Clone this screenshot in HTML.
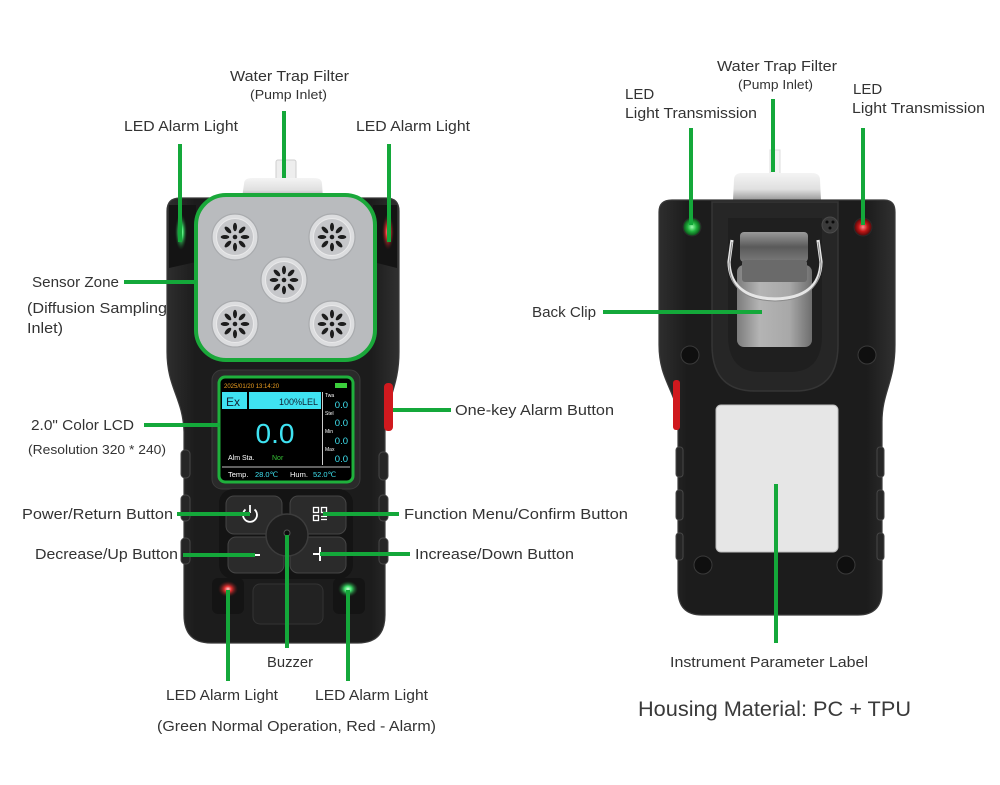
<!DOCTYPE html>
<html><head><meta charset="utf-8"><style>
html,body{margin:0;padding:0;background:#fff;}
svg{display:block;}
text{font-family:"Liberation Sans",sans-serif;fill:#333;}
</style></head><body>
<svg width="1000" height="785" viewBox="0 0 1000 785" xmlns="http://www.w3.org/2000/svg">
<defs>
<linearGradient id="body" x1="0" x2="1" y1="0" y2="0">
<stop offset="0" stop-color="#2e2e2e"/><stop offset="0.12" stop-color="#1c1c1c"/><stop offset="0.88" stop-color="#1c1c1c"/><stop offset="1" stop-color="#303030"/>
</linearGradient>
<linearGradient id="cap" x1="0" x2="0" y1="0" y2="1">
<stop offset="0" stop-color="#f4f4f4"/><stop offset="0.6" stop-color="#e0e0e0"/><stop offset="1" stop-color="#9a9a9a"/>
</linearGradient>
<linearGradient id="plate" x1="0" x2="1" y1="0" y2="0">
<stop offset="0" stop-color="#7c7c7c"/><stop offset="0.3" stop-color="#b4b4b4"/><stop offset="0.7" stop-color="#a8a8a8"/><stop offset="1" stop-color="#6e6e6e"/>
</linearGradient>
<linearGradient id="hinge" x1="0" x2="0" y1="0" y2="1">
<stop offset="0" stop-color="#9a9a9a"/><stop offset="0.5" stop-color="#5a5a5a"/><stop offset="1" stop-color="#7a7a7a"/>
</linearGradient>
<radialGradient id="gled"><stop offset="0" stop-color="#d8ffe0"/><stop offset="0.35" stop-color="#3de06a"/><stop offset="1" stop-color="#1a5a2a" stop-opacity="0"/></radialGradient>
<radialGradient id="rled"><stop offset="0" stop-color="#ffd0d0"/><stop offset="0.35" stop-color="#e53030"/><stop offset="1" stop-color="#5a1a1a" stop-opacity="0"/></radialGradient>
<radialGradient id="gdot"><stop offset="0" stop-color="#9dffb0"/><stop offset="0.5" stop-color="#1fb33c"/><stop offset="1" stop-color="#0c4a18"/></radialGradient>
<radialGradient id="rdot"><stop offset="0" stop-color="#ff8a8a"/><stop offset="0.5" stop-color="#c41616"/><stop offset="1" stop-color="#4a0a0a"/></radialGradient>
<g id="sensor">
<circle r="23" fill="#dcdddf" stroke="#a9abae" stroke-width="1.2"/>
<circle r="18.5" fill="#c6c7ca" stroke="#e9e9ea" stroke-width="1"/>
<g fill="#1d1d1d">
<ellipse cx="0" cy="-10" rx="2" ry="4.3"/>
<ellipse cx="0" cy="-10" rx="2" ry="4.3" transform="rotate(45)"/>
<ellipse cx="0" cy="-10" rx="2" ry="4.3" transform="rotate(90)"/>
<ellipse cx="0" cy="-10" rx="2" ry="4.3" transform="rotate(135)"/>
<ellipse cx="0" cy="-10" rx="2" ry="4.3" transform="rotate(180)"/>
<ellipse cx="0" cy="-10" rx="2" ry="4.3" transform="rotate(225)"/>
<ellipse cx="0" cy="-10" rx="2" ry="4.3" transform="rotate(270)"/>
<ellipse cx="0" cy="-10" rx="2" ry="4.3" transform="rotate(315)"/>
<circle r="2.3"/>
</g>
</g>
</defs>

<!-- ================= FRONT DEVICE ================= -->
<!-- water trap -->
<rect x="276" y="160" width="20" height="24" rx="2" fill="#eeeeee" stroke="#cfcfcf"/>
<path d="M244 184 Q244 178 252 178 L314 178 Q322 178 322 184 L323 198 L242 198 Z" fill="url(#cap)"/>
<!-- body -->
<path d="M180 198 L386 198 Q399 198 399 211 L399 352 C399 388 386 398 385 432 L385 615 Q385 643 358 643 L211 643 Q184 643 184 615 L184 432 C183 398 167 388 167 352 L167 211 Q167 198 180 198 Z" fill="url(#body)" stroke="#3a3a3a" stroke-width="1.2"/>
<!-- top corner LED housings -->
<path d="M169 205 L196 205 L196 262 L169 268 Z" fill="#141414"/>
<path d="M397 205 L373 205 L373 262 L397 268 Z" fill="#141414"/>
<ellipse cx="181" cy="232" rx="6" ry="18" fill="url(#gled)"/>
<ellipse cx="388" cy="232" rx="6" ry="18" fill="url(#rled)"/>
<!-- sensor panel -->
<rect x="196" y="195" width="179" height="165" rx="30" fill="#b9bbbe" stroke="#1aa83a" stroke-width="4"/>
<use href="#sensor" x="235" y="237"/>
<use href="#sensor" x="332" y="237"/>
<use href="#sensor" x="284" y="280"/>
<use href="#sensor" x="235" y="324"/>
<use href="#sensor" x="332" y="324"/>
<!-- side buttons -->
<rect x="384" y="383" width="9" height="48" rx="4" fill="#d0191e"/>
<rect x="181" y="450" width="9" height="28" rx="4" fill="#262626" stroke="#474747"/>
<rect x="181" y="495" width="9" height="26" rx="4" fill="#262626" stroke="#474747"/>
<rect x="181" y="538" width="9" height="26" rx="4" fill="#262626" stroke="#474747"/>
<rect x="379" y="452" width="9" height="28" rx="4" fill="#262626" stroke="#474747"/>
<rect x="379" y="495" width="9" height="26" rx="4" fill="#262626" stroke="#474747"/>
<rect x="379" y="538" width="9" height="26" rx="4" fill="#262626" stroke="#474747"/>
<!-- LCD bezel -->
<rect x="212" y="370" width="148" height="119" rx="10" fill="#2a2a2a" stroke="#3a3a3a"/>
<rect x="219" y="377" width="134" height="105" rx="6" fill="#000" stroke="#1fb03c" stroke-width="3"/>
<text x="224" y="388" style="font-size:6px;fill:#f0a020">2025/01/20 13:14:20</text>
<rect x="335" y="383" width="12" height="5" fill="#3ccf3c"/>
<rect x="222" y="392" width="25" height="17" fill="#3fe3f2"/>
<rect x="249" y="392" width="72" height="17" fill="#3fe3f2"/>
<text x="226" y="406" style="font-size:12px;fill:#123">Ex</text>
<text x="318" y="405" text-anchor="end" style="font-size:9px;fill:#123">100%LEL</text>
<line x1="322.5" y1="392" x2="322.5" y2="465" stroke="#fff" stroke-width="0.8"/>
<g style="font-size:5px;fill:#fff">
<text x="325" y="397" style="fill:#fff">Twa</text>
<text x="325" y="415" style="fill:#fff">Stel</text>
<text x="325" y="433" style="fill:#fff">Min</text>
<text x="325" y="451" style="fill:#fff">Max</text>
</g>
<g style="font-size:9.5px">
<text x="348" y="408" text-anchor="end" style="fill:#3fe3f2">0.0</text>
<text x="348" y="426" text-anchor="end" style="fill:#3fe3f2">0.0</text>
<text x="348" y="444" text-anchor="end" style="fill:#3fe3f2">0.0</text>
<text x="348" y="462" text-anchor="end" style="fill:#3fe3f2">0.0</text>
</g>
<text x="275" y="443" text-anchor="middle" style="font-size:28px;fill:#3fe3f2">0.0</text>
<text x="228" y="460" style="font-size:7px;fill:#fff">Alm Sta.</text>
<text x="272" y="460" style="font-size:7px;fill:#35c035">Nor</text>
<line x1="222" y1="467" x2="350" y2="467" stroke="#fff" stroke-width="0.8"/>
<text x="228" y="477" style="font-size:7.5px;fill:#fff">Temp.</text>
<text x="255" y="477" style="font-size:7.5px;fill:#3fe3f2">28.0℃</text>
<text x="290" y="477" style="font-size:7.5px;fill:#fff">Hum.</text>
<text x="313" y="477" style="font-size:7.5px;fill:#3fe3f2">52.0℃</text>
<!-- buttons -->
<rect x="219" y="489" width="134" height="90" rx="14" fill="#141414"/>
<rect x="226" y="496" width="56" height="38" rx="8" fill="#2b2b2b" stroke="#454545"/>
<rect x="290" y="496" width="56" height="38" rx="8" fill="#2b2b2b" stroke="#454545"/>
<rect x="228" y="537" width="56" height="36" rx="8" fill="#2b2b2b" stroke="#454545"/>
<rect x="290" y="537" width="56" height="36" rx="8" fill="#2b2b2b" stroke="#454545"/>
<circle cx="287" cy="535" r="21" fill="#1e1e1e" stroke="#3c3c3c" stroke-width="1.5"/>
<circle cx="287" cy="533" r="3" fill="#0c0c0c" stroke="#555"/>
<path d="M245.5 509.5 A7 7 0 1 0 254.5 509.5" fill="none" stroke="#fff" stroke-width="1.8"/>
<line x1="250" y1="505" x2="250" y2="513" stroke="#fff" stroke-width="1.8"/>
<g fill="none" stroke="#fff" stroke-width="1.3">
<rect x="313.5" y="507.5" width="5" height="5"/><rect x="321.5" y="507.5" width="5" height="5"/><rect x="313.5" y="515.5" width="5" height="5"/>
<line x1="321" y1="516.5" x2="327" y2="516.5"/><line x1="321" y1="519.5" x2="327" y2="519.5"/>
</g>
<line x1="248" y1="555" x2="260" y2="555" stroke="#fff" stroke-width="2"/>
<line x1="313" y1="554" x2="327" y2="554" stroke="#fff" stroke-width="2"/>
<line x1="320" y1="547" x2="320" y2="561" stroke="#fff" stroke-width="2"/>
<!-- bottom section -->
<rect x="212" y="578" width="32" height="36" rx="6" fill="#141414"/>
<rect x="333" y="578" width="32" height="36" rx="6" fill="#141414"/>
<rect x="253" y="584" width="70" height="40" rx="7" fill="#222" stroke="#333"/>
<ellipse cx="228" cy="589" rx="10" ry="8" fill="url(#rled)"/>
<ellipse cx="348" cy="589" rx="10" ry="8" fill="url(#gled)"/>

<!-- ================= BACK DEVICE ================= -->
<rect x="770" y="150" width="10" height="25" fill="#f4f4f4" stroke="#ddd"/>
<path d="M734 180 Q734 173 742 173 L812 173 Q820 173 820 180 L821 200 L733 200 Z" fill="url(#cap)"/>
<path d="M672 200 L884 200 Q895 200 895 212 L895 345 C895 382 882 392 882 422 L882 590 Q882 615 858 615 L702 615 Q678 615 678 590 L678 422 C678 392 659 382 659 345 L659 212 Q659 200 672 200 Z" fill="url(#body)" stroke="#3a3a3a" stroke-width="1.2"/>
<path d="M712 202 L838 202 L838 345 Q838 391 795 391 L755 391 Q712 391 712 345 Z" fill="#262626" stroke="#353535" stroke-width="1.5"/>
<path d="M728 218 L822 218 L822 335 Q822 372 790 372 L760 372 Q728 372 728 335 Z" fill="#1f1f1f"/>
<!-- LEDs -->
<circle cx="692" cy="227" r="9" fill="url(#gdot)" stroke="#2a2a2a"/>
<circle cx="863" cy="227" r="9" fill="url(#rdot)" stroke="#2a2a2a"/>
<circle cx="830" cy="225" r="8" fill="#3a3a3a" stroke="#4a4a4a"/>
<circle cx="827" cy="222" r="1.5" fill="#0a0a0a"/><circle cx="833" cy="222" r="1.5" fill="#0a0a0a"/><circle cx="830" cy="228" r="1.5" fill="#0a0a0a"/>
<!-- clip -->
<rect x="740" y="232" width="68" height="30" rx="4" fill="url(#hinge)"/>
<rect x="737" y="265" width="75" height="82" rx="7" fill="url(#plate)"/>
<rect x="742" y="260" width="65" height="22" rx="3" fill="#6a6a6a"/>
<path d="M732 240 L729 262 Q730 298 775 299 Q820 298 821 262 L818 240" fill="none" stroke="#e6e6e6" stroke-width="3.2"/>
<path d="M732 240 L729 262 Q730 298 775 299 Q820 298 821 262 L818 240" fill="none" stroke="#8a8a8a" stroke-width="1" transform="translate(0,2)"/>
<!-- screws -->
<circle cx="690" cy="355" r="9" fill="#0f0f0f" stroke="#3a3a3a"/>
<circle cx="867" cy="355" r="9" fill="#0f0f0f" stroke="#3a3a3a"/>
<circle cx="703" cy="565" r="9" fill="#0f0f0f" stroke="#3a3a3a"/>
<circle cx="846" cy="565" r="9" fill="#0f0f0f" stroke="#3a3a3a"/>
<!-- label -->
<rect x="716" y="405" width="122" height="147" rx="5" fill="#e6e6e6" stroke="#bdbdbd"/>
<!-- side bumps -->
<rect x="673" y="380" width="7" height="50" rx="3" fill="#d0191e"/>
<rect x="676" y="447" width="7" height="30" rx="3" fill="#262626" stroke="#474747"/>
<rect x="676" y="490" width="7" height="30" rx="3" fill="#262626" stroke="#474747"/>
<rect x="676" y="533" width="7" height="27" rx="3" fill="#262626" stroke="#474747"/>
<rect x="877" y="447" width="7" height="30" rx="3" fill="#262626" stroke="#474747"/>
<rect x="877" y="490" width="7" height="30" rx="3" fill="#262626" stroke="#474747"/>
<rect x="877" y="533" width="7" height="27" rx="3" fill="#262626" stroke="#474747"/>

<!-- ================= CONNECTOR LINES ================= -->
<g stroke="#14a83a" stroke-width="4" fill="none">
<line x1="284" y1="111" x2="284" y2="178"/>
<line x1="180" y1="144" x2="180" y2="242"/>
<line x1="389" y1="144" x2="389" y2="242"/>
<line x1="124" y1="282" x2="196" y2="282"/>
<line x1="144" y1="425" x2="220" y2="425"/>
<line x1="177" y1="514" x2="250" y2="514"/>
<line x1="183" y1="555" x2="255" y2="555"/>
<line x1="393" y1="410" x2="451" y2="410"/>
<line x1="323" y1="514" x2="399" y2="514"/>
<line x1="320" y1="554" x2="410" y2="554"/>
<line x1="228" y1="590" x2="228" y2="681"/>
<line x1="287" y1="535" x2="287" y2="648"/>
<line x1="348" y1="590" x2="348" y2="681"/>
<line x1="773" y1="99" x2="773" y2="172"/>
<line x1="691" y1="128" x2="691" y2="225"/>
<line x1="863" y1="128" x2="863" y2="225"/>
<line x1="603" y1="312" x2="762" y2="312"/>
<line x1="776" y1="484" x2="776" y2="643"/>
</g>

<!-- ================= LABELS ================= -->
<g style="font-size:15px">
<text x="230" y="81" textLength="119" lengthAdjust="spacingAndGlyphs">Water Trap Filter</text>
<text x="124" y="131" textLength="114" lengthAdjust="spacingAndGlyphs">LED Alarm Light</text>
<text x="356" y="131" textLength="114" lengthAdjust="spacingAndGlyphs">LED Alarm Light</text>
<text x="32" y="287" textLength="87" lengthAdjust="spacingAndGlyphs">Sensor Zone</text>
<text x="27" y="313" textLength="140" lengthAdjust="spacingAndGlyphs">(Diffusion Sampling</text>
<text x="27" y="333" textLength="36" lengthAdjust="spacingAndGlyphs">Inlet)</text>
<text x="31" y="430" textLength="103" lengthAdjust="spacingAndGlyphs">2.0" Color LCD</text>
<text x="22" y="519" textLength="151" lengthAdjust="spacingAndGlyphs">Power/Return Button</text>
<text x="35" y="559" textLength="143" lengthAdjust="spacingAndGlyphs">Decrease/Up Button</text>
<text x="455" y="415" textLength="159" lengthAdjust="spacingAndGlyphs">One-key Alarm Button</text>
<text x="404" y="519" textLength="224" lengthAdjust="spacingAndGlyphs">Function Menu/Confirm Button</text>
<text x="415" y="559" textLength="159" lengthAdjust="spacingAndGlyphs">Increase/Down Button</text>
<text x="267" y="667" textLength="46" lengthAdjust="spacingAndGlyphs">Buzzer</text>
<text x="166" y="700" textLength="112" lengthAdjust="spacingAndGlyphs">LED Alarm Light</text>
<text x="315" y="700" textLength="113" lengthAdjust="spacingAndGlyphs">LED Alarm Light</text>
<text x="157" y="731" textLength="279" lengthAdjust="spacingAndGlyphs">(Green Normal Operation, Red - Alarm)</text>
<text x="717" y="71" textLength="120" lengthAdjust="spacingAndGlyphs">Water Trap Filter</text>
<text x="625" y="99">LED</text>
<text x="625" y="118" textLength="132" lengthAdjust="spacingAndGlyphs">Light Transmission</text>
<text x="853" y="94">LED</text>
<text x="852" y="113" textLength="133" lengthAdjust="spacingAndGlyphs">Light Transmission</text>
<text x="532" y="317" textLength="64" lengthAdjust="spacingAndGlyphs">Back Clip</text>
<text x="670" y="667" textLength="198" lengthAdjust="spacingAndGlyphs">Instrument Parameter Label</text>
</g>
<g style="font-size:12.5px">
<text x="250" y="99" textLength="77" lengthAdjust="spacingAndGlyphs">(Pump Inlet)</text>
<text x="28" y="454" textLength="138" lengthAdjust="spacingAndGlyphs">(Resolution 320 * 240)</text>
<text x="738" y="89" textLength="75" lengthAdjust="spacingAndGlyphs">(Pump Inlet)</text>
</g>
<text x="638" y="716" style="font-size:21px;fill:#3a3a3a" textLength="273" lengthAdjust="spacingAndGlyphs">Housing Material: PC + TPU</text>
</svg>
</body></html>
